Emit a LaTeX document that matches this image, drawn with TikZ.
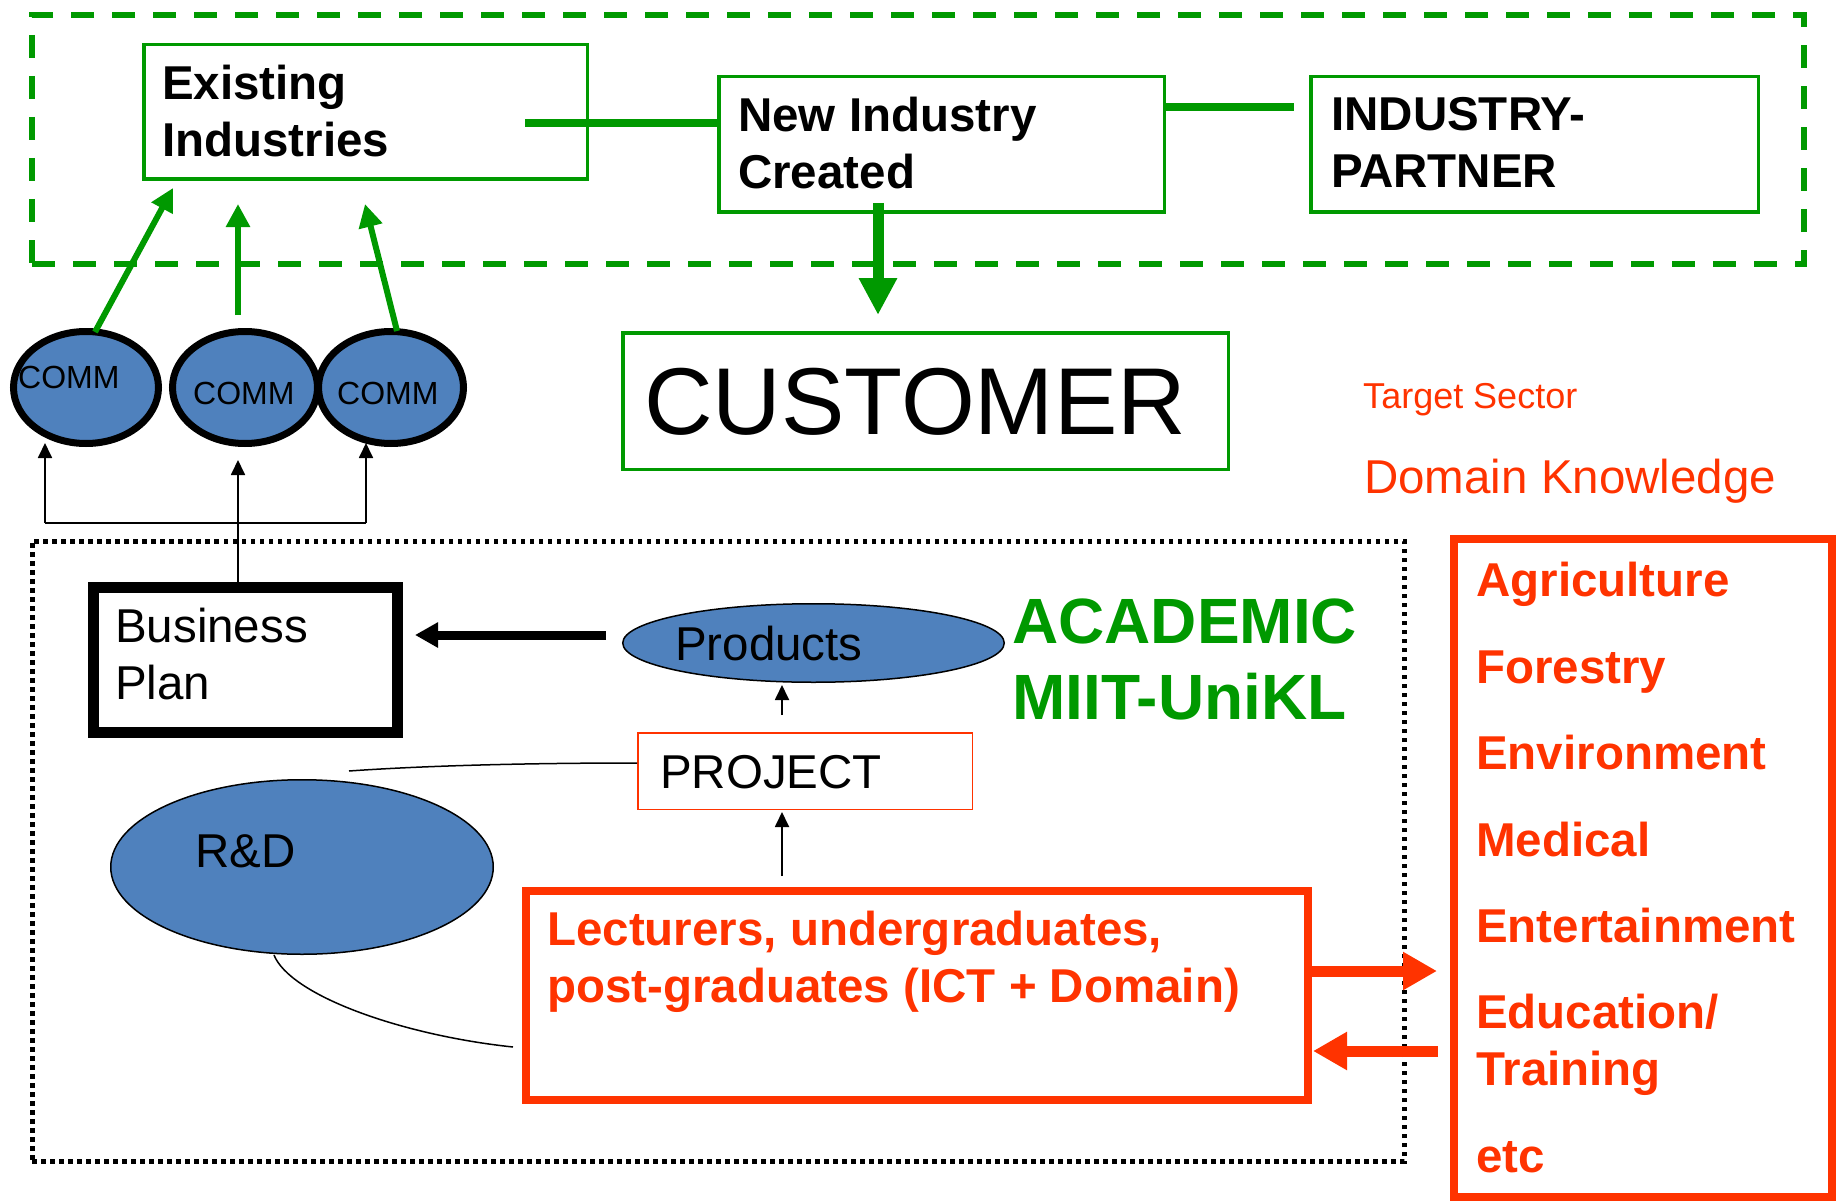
\documentclass[tikz,border=0pt]{standalone}
\usepackage{fontspec}
\setmainfont{Liberation Sans}
\usetikzlibrary{arrows.meta,shapes.geometric}
\definecolor{grn}{HTML}{009900}
\definecolor{rd}{HTML}{FF3300}
\definecolor{blu}{HTML}{4F81BD}
\begin{document}
\begin{tikzpicture}[x=1pt,y=-1pt,
  txt/.style={inner sep=0pt, anchor=base west, align=left, font=\fontsize{47.5}{57}\selectfont},
  btxt/.style={txt, font=\fontsize{47.5}{57}\selectfont\bfseries},
  gbox/.style={draw=grn, line width=3.5pt, inner sep=0pt, outer sep=0pt},
  blob/.style={ellipse, draw=black, fill=blu, inner sep=0pt, outer sep=0pt},
  commblob/.style={blob, line width=7pt, minimum width=145pt, minimum height=112pt},
  thinarrow/.style={line width=1.8pt, -{Triangle[length=15pt,width=14pt]}},
  garrow/.style={draw=grn, line width=6pt, -{Triangle[length=23pt,width=23pt]}},
  gline/.style={draw=grn, line width=8pt},
  rarrow/.style={draw=rd, line width=11pt, -{Triangle[length=34pt,width=36pt]}}
]
\useasboundingbox (0,0) rectangle (1836,1201);

% regions
\node[draw=grn, line width=6pt, dash pattern=on 23pt off 18pt, minimum width=1772pt, minimum height=249pt, inner sep=0pt] (zone) at (918,139.5) {};
\node[draw=black, line width=5pt, dash pattern=on 4.5pt off 4.5pt, minimum width=1372pt, minimum height=620pt, inner sep=0pt] (acad) at (718,851) {};

% boxes
\node[gbox, minimum width=443.5pt, minimum height=134.5pt] (ex) at (365.5,112) {};
\node[gbox, minimum width=445.5pt, minimum height=135.5pt] (nw) at (941.5,144.5) {};
\node[gbox, minimum width=447.5pt, minimum height=135.5pt] (pt) at (1534.5,144.5) {};
\node[gbox, minimum width=605.5pt, minimum height=136.5pt] (cust) at (925.5,401) {};
\node[draw=black, line width=11pt, inner sep=0pt, outer sep=0pt, minimum width=304pt, minimum height=145pt] (bp) at (245.5,660) {};
\node[draw=rd, line width=1.5pt, inner sep=0pt, outer sep=0pt, minimum width=334.5pt, minimum height=76.5pt] (proj) at (805,771) {};
\node[draw=rd, line width=8pt, inner sep=0pt, outer sep=0pt, minimum width=782pt, minimum height=209pt] (lect) at (917,995.5) {};
\node[draw=rd, line width=8pt, inner sep=0pt, outer sep=0pt, minimum width=378pt, minimum height=658pt] (dom) at (1643,868) {};

% ellipses
\node[commblob] (c1) at (86,387.5) {};
\node[commblob] (c2) at (245,387.5) {};
\node[commblob] (c3) at (391,387.5) {};
\node[blob, line width=1.5pt, minimum width=381.5pt, minimum height=78.5pt] (prod) at (813.5,643) {};
\node[blob, line width=1.5pt, minimum width=382.5pt, minimum height=174.5pt] (rd) at (302,867) {};

% free connector ends
\coordinate (exl) at (525,123);
\coordinate (pl) at (1294,107);
\coordinate (nwr) at (1166,107);
\coordinate (dn1) at (878,203);
\coordinate (dn2) at (878,315);
\coordinate (a1s) at (95,332);  \coordinate (a1e) at (173,188);
\coordinate (a2s) at (238,315); \coordinate (a2e) at (238,204);
\coordinate (a3s) at (397,331); \coordinate (a3e) at (365,204);
\coordinate (bpt) at (238,587);
\coordinate (h1) at (45,523);  \coordinate (h2) at (238,523); \coordinate (h3) at (366,523);
\coordinate (t1) at (45,443);  \coordinate (t2) at (238,460); \coordinate (t3) at (366,443);
\coordinate (ps) at (606,635); \coordinate (pe) at (415,635);
\coordinate (pj1) at (782,715); \coordinate (pj2) at (782,685);
\coordinate (lc1) at (782,876); \coordinate (lc2) at (782,812);
\coordinate (pjl) at (637,763); \coordinate (rdt) at (349,771);
\coordinate (rdb) at (274,955); \coordinate (lcl) at (513,1047);
\coordinate (r1s) at (1312,971); \coordinate (r1e) at (1437,971);
\coordinate (r2s) at (1438,1051); \coordinate (r2e) at (1313,1051);

% green connectors
\draw[gline] (exl) -- (exl -| nw.west);
\draw[gline] (nwr) -- (pl);
\draw[draw=grn, line width=11pt, -{Triangle[length=37pt,width=36pt]}] (dn1) -- (dn2);
\draw[garrow] (a1s) -- (a1e);
\draw[garrow] (a2s) -- (a2e);
\draw[garrow] (a3s) -- (a3e);

% black connectors
\draw[line width=1.8pt] (bpt) -- (h2);
\draw[line width=1.8pt] (h1) -- (h3);
\draw[thinarrow] (h1) -- (t1);
\draw[thinarrow] (h2) -- (t2);
\draw[thinarrow] (h3) -- (t3);
\draw[line width=9pt, -{Triangle[length=23pt,width=24pt]}] (ps) -- (pe);
\draw[thinarrow] (pj1) -- (pj2);
\draw[thinarrow] (lc1) -- (lc2);
\draw[line width=1.5pt] (pjl) .. controls (520,763) and (420,766) .. (rdt);
\draw[line width=1.5pt] (rdb) .. controls (290,995) and (400,1035) .. (lcl);

% red arrows
\draw[rarrow] (r1s) -- (r1e);
\draw[rarrow] (r2s) -- (r2e);

% texts (multi-line nodes are placed at the baseline of their last line)
\node[btxt] (extxt) at (162,157) {Existing\\Industries};
\node[btxt] (nwtxt) at (738,189) {New Industry\\Created};
\node[btxt] (pttxt) at (1331,188) {INDUSTRY-\\PARTNER};
\node[txt, font=\fontsize{95}{114}\selectfont] (custtxt) at (644,434) {CUSTOMER};
\node[txt, text=rd, font=\fontsize{36}{43}\selectfont] (tgt) at (1363,408) {Target Sector};
\node[txt, text=rd] (dk) at (1364,493) {Domain Knowledge};
\node[txt, font=\fontsize{32}{38}\selectfont] (ct1) at (18,388) {COMM};
\node[txt, font=\fontsize{32}{38}\selectfont] (ct2) at (193,404) {COMM};
\node[txt, font=\fontsize{32}{38}\selectfont] (ct3) at (337,404) {COMM};
\node[txt] (bptxt) at (115,699) {Business\\Plan};
\node[txt] (prodtxt) at (675,660) {Products};
\node[txt] (projtxt) at (660,788) {PROJECT};
\node[txt, text=grn, font=\fontsize{64}{76}\selectfont\bfseries] (acadtxt) at (1012,719) {ACADEMIC\\MIIT-UniKL};
\node[txt] (rdtxt) at (195,867) {R\&D};
\node[btxt, text=rd] (lecttxt) at (547,1002) {Lecturers, undergraduates,\\post-graduates (ICT + Domain)};
\node[btxt, text=rd] (d1) at (1476,596) {Agriculture};
\node[btxt, text=rd] (d2) at (1476,683) {Forestry};
\node[btxt, text=rd] (d3) at (1476,769) {Environment};
\node[btxt, text=rd] (d4) at (1476,856) {Medical};
\node[btxt, text=rd] (d5) at (1476,942) {Entertainment};
\node[btxt, text=rd] (d6) at (1476,1085) {Education/\\Training};
\node[btxt, text=rd] (d7) at (1476,1172) {etc};
\end{tikzpicture}
\end{document}
